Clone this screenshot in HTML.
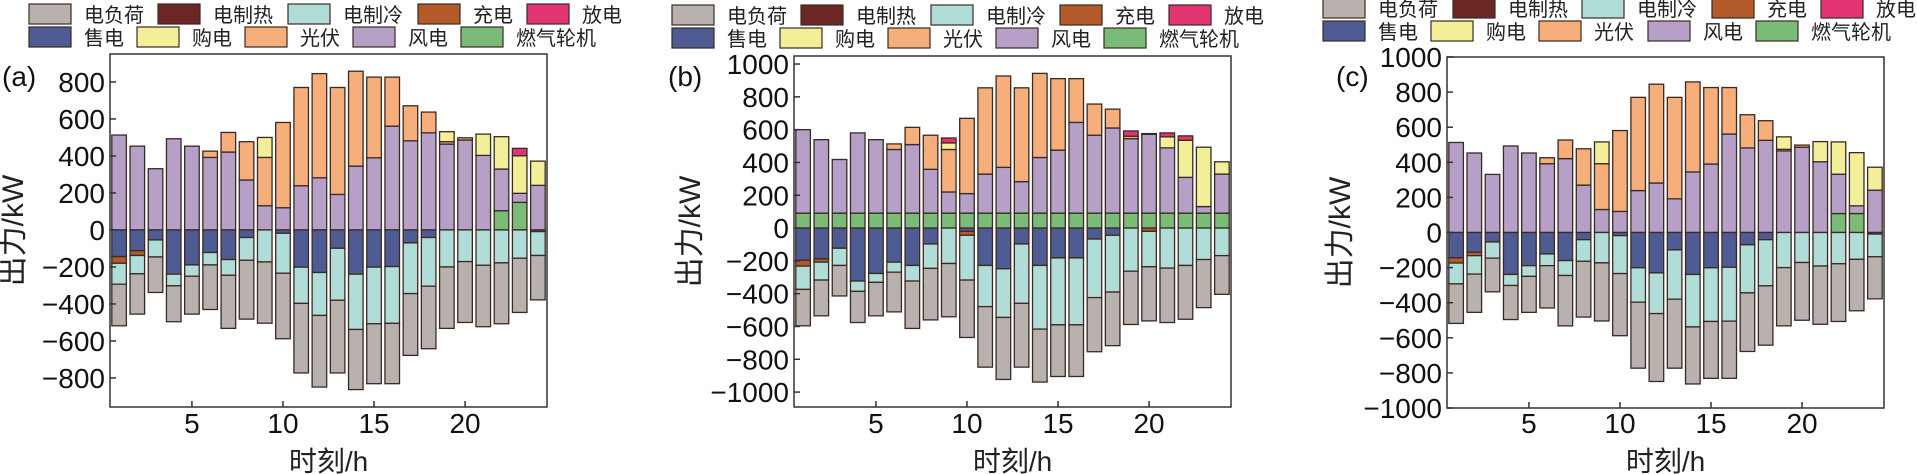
<!DOCTYPE html>
<html><head><meta charset="utf-8">
<style>
html,body{margin:0;padding:0;background:#fff;}
svg{display:block;font-family:"Liberation Sans","Noto Sans CJK SC",sans-serif;}
</style></head>
<body>
<svg id="chart" width="1917" height="474" viewBox="0 0 1917 474" xmlns="http://www.w3.org/2000/svg"></svg>
<script>
// ---------- data ----------
const hours = [1,2,3,4,5,6,7,8,9,10,11,12,13,14,15,16,17,18,19,20,21,22,23,24];
const yTicksA = [-800,-600,-400,-200,0,200,400,600,800];
const yTicksB = [-1000,-800,-600,-400,-200,0,200,400,600,800,1000];
const xTicks = [5,10,15,20];
const legendNames = ["电负荷","电制热","电制冷","充电","放电","售电","购电","光伏","风电","燃气轮机"];

// panel a
const gtA   = [0,0,0,0,0,0,0,0,0,0,0,0,0,0,0,0,0,0,0,0,0,104,149,0];
const windA = [513,453,331,493,453,392,421,270,131,120,239,282,192,345,390,561,482,525,464,486,403,225,49,241];
const pvA   = [0,0,0,0,0,34,106,207,261,461,531,563,578,513,436,265,189,112,13,12,0,0,0,0];
const buyA  = [0,0,0,0,0,0,0,0,108,0,0,0,0,0,0,0,0,0,54,0,115,175,203,131];
const disA  = [0,0,0,0,0,0,0,0,0,0,0,0,0,0,0,0,0,0,0,0,0,0,40,0];
const sellA = [144,112,54,239,189,122,160,41,0,18,201,230,99,239,201,198,70,41,0,0,0,0,0,9];
const chgA  = [36,26,0,0,0,0,0,0,0,0,0,0,0,0,0,0,0,0,0,0,0,0,0,0];
const heatA = [0,0,0,0,0,0,0,0,0,0,0,0,0,0,0,0,0,0,0,0,0,0,0,0];
const coolA = [113,99,92,63,61,67,85,123,173,216,196,232,281,299,306,307,274,263,200,171,191,178,153,129];
const loadA = [225,218,192,194,205,241,287,318,331,354,376,387,393,325,324,326,334,338,332,329,332,329,293,240];

// panel b
const gtB   = [91,91,91,91,91,91,91,91,91,91,91,91,91,91,91,91,91,91,91,91,91,91,91,91];
const windB = [509,448,327,489,448,388,418,267,129,119,238,279,192,339,384,553,475,519,454,481,398,218,40,238];
const pvB   = [0,0,0,0,0,34,105,208,259,459,526,557,572,513,436,267,190,115,15,4,0,0,0,0];
const buyB  = [0,0,0,0,0,0,0,0,40,0,0,0,0,0,0,0,0,0,0,0,67,226,362,75];
const disB  = [0,0,0,0,0,0,0,0,30,0,0,0,0,0,0,0,0,0,32,0,24,27,0,0];
const sellB = [196,188,123,323,277,208,228,97,0,20,228,248,97,228,182,182,67,44,0,0,0,0,0,0];
const chgB  = [36,20,0,0,0,0,0,0,0,24,0,0,0,0,0,0,0,0,0,20,0,0,0,0];
const heatB = [0,0,0,0,0,0,0,0,0,0,0,0,0,0,0,0,0,0,0,0,0,0,0,0];
const coolB = [142,109,105,63,54,61,95,149,216,273,251,297,362,388,408,408,357,346,263,216,244,228,192,168];
const loadB = [222,218,186,190,204,242,289,314,325,350,369,378,389,323,315,315,330,327,325,330,332,328,293,236];

// panel c
const gtC   = [0,0,0,0,0,0,0,0,0,0,0,0,0,0,0,0,0,0,0,0,0,108,108,0];
const windC = [513,453,331,493,453,392,421,270,131,120,239,282,192,345,390,561,482,525,465,486,403,224,44,241];
const pvC   = [0,0,0,0,0,34,106,207,261,461,531,563,578,513,436,265,189,112,9,12,0,0,0,0];
const buyC  = [0,0,0,0,0,0,0,0,124,0,0,0,0,0,0,0,0,0,71,0,115,184,303,131];
const disC  = [0,0,0,0,0,0,0,0,0,0,0,0,0,0,0,0,0,0,0,0,0,0,0,0];
const sellC = [144,112,54,239,189,122,160,41,0,18,201,230,99,239,201,198,70,41,0,0,0,0,0,9];
const chgC  = [30,20,0,0,0,0,0,0,0,0,0,0,0,0,0,0,0,0,0,0,0,0,0,0];
const heatC = [0,0,0,0,0,0,0,0,0,0,0,0,0,0,0,0,0,0,0,0,0,0,0,0];
const coolC = [119,105,92,63,61,67,85,123,173,216,196,232,281,299,306,307,274,263,200,171,191,178,153,129];
const loadC = [225,218,192,194,205,241,287,318,331,354,376,387,393,325,324,326,334,338,332,329,332,329,293,240];

// ---------- rendering ----------
const NS = "http://www.w3.org/2000/svg";
const svg = document.getElementById("chart");
const COL = {load:"#b9b1ae",heat:"#6b2724",cool:"#b1ddd9",chg:"#b35a2b",dis:"#e23473",sell:"#4f5b93",buy:"#f3ef98",pv:"#f6ae7b",wind:"#b7a0c8",gt:"#7bbb78"};
const legendColors = [COL.load,COL.heat,COL.cool,COL.chg,COL.dis,COL.sell,COL.buy,COL.pv,COL.wind,COL.gt];
const EDGE = "#3a2a22";

function mk(tag, attrs, parent){
  const e = document.createElementNS(NS, tag);
  for (const k in attrs) e.setAttribute(k, attrs[k]);
  (parent||svg).appendChild(e);
  return e;
}

const panels = [
  {id:"a", x0:110, x1:547, y0:54, y1:407, ymin:-957, ymax:951, ticks:yTicksA, ylabX:15, labX:2,
   legX1:[29,158,288,418,527], legX2:[29,137,245,353,461], legY:4,
   pos:[["gt",gtA],["wind",windA],["pv",pvA],["buy",buyA],["dis",disA]],
   neg:[["sell",sellA],["chg",chgA],["cool",coolA],["heat",heatA],["load",loadA]]},
  {id:"b", x0:794, x1:1231, y0:56, y1:407, ymin:-1091, ymax:1049, ticks:yTicksB, ylabX:692, labX:668,
   legX1:[672,801,931,1060,1169], legX2:[672,780,888,996,1104], legY:5,
   pos:[["gt",gtB],["wind",windB],["pv",pvB],["buy",buyB],["dis",disB]],
   neg:[["sell",sellB],["chg",chgB],["cool",coolB],["heat",heatB],["load",loadB]]},
  {id:"c", x0:1447, x1:1884, y0:57, y1:408, ymin:-1000, ymax:1000, ticks:yTicksB, ylabX:1342, labX:1336,
   legX1:[1323,1453,1582,1712,1821], legX2:[1323,1431,1539,1648,1756], legY:-2,
   pos:[["gt",gtC],["wind",windC],["pv",pvC],["buy",buyC],["dis",disC]],
   neg:[["sell",sellC],["chg",chgC],["cool",coolC],["heat",heatC],["load",loadC]]}
];

panels.forEach(p => {
  const g = mk("g", {});
  
  
  const xs = h => p.x0 + (h - 0.5) / 24 * (p.x1 - p.x0);
  const ys = v => p.y1 - (v - p.ymin) / (p.ymax - p.ymin) * (p.y1 - p.y0);
  const bw = (p.x1 - p.x0) / 24 * 0.8;

  // legend
  legendNames.forEach((n, i) => {
    const row = i < 5 ? 0 : 1;
    const lx = (row === 0 ? p.legX1 : p.legX2)[i % 5];
    const ly = p.legY + row * 23;
    const lg = mk("g", {}, g);
    
    
    mk("rect", {x:lx, y:ly, width:42, height:20, fill:legendColors[i], stroke:EDGE, "stroke-width":1.2}, lg);
    const t = mk("text", {x:lx+55, y:ly+18, "font-size":20, fill:"#222"}, lg);
    t.textContent = n;
  });

  // bars
  hours.forEach((h, i) => {
    let acc = 0;
    p.pos.forEach(([k, arr]) => {
      const v = arr[i];
      if (v <= 0) return;
      const r = mk("rect", {x:xs(h)-bw/2, y:ys(acc+v), width:bw, height:ys(acc)-ys(acc+v), fill:COL[k], stroke:EDGE, "stroke-width":1.3}, g);
      
      
      acc += v;
    });
    acc = 0;
    p.neg.forEach(([k, arr]) => {
      const v = arr[i];
      if (v <= 0) return;
      const r = mk("rect", {x:xs(h)-bw/2, y:ys(acc), width:bw, height:ys(acc-v)-ys(acc), fill:COL[k], stroke:EDGE, "stroke-width":1.3}, g);
      
      
      acc -= v;
    });
  });

  // frame
  const fr = mk("rect", {x:p.x0, y:p.y0, width:p.x1-p.x0, height:p.y1-p.y0, fill:"none", stroke:"#333", "stroke-width":1.5}, g);
  
  

  // y ticks
  p.ticks.forEach(t => {
    const y = ys(t);
    mk("line", {x1:p.x0, x2:p.x0+6, y1:y, y2:y, stroke:"#333", "stroke-width":1.5}, g);
    const tl = mk("text", {x:p.x0-5, y:y+10, "font-size":28, "text-anchor":"end", fill:"#111"}, g);
    
    
    tl.textContent = t < 0 ? "\u2212" + (-t) : String(t);
  });
  // x ticks
  xTicks.forEach(t => {
    const x = xs(t);
    mk("line", {x1:x, x2:x, y1:p.y1, y2:p.y1-6, stroke:"#333", "stroke-width":1.5}, g);
    const tl = mk("text", {x:x, y:433, "font-size":28, "text-anchor":"middle", fill:"#111"}, g);
    
    
    tl.textContent = String(t);
  });

  // axis titles
  const xl = mk("text", {x:(p.x0+p.x1)/2, y:471, "font-size":28, "text-anchor":"middle", fill:"#222"}, g);
  
  
  xl.textContent = "时刻/h";
  const cy = (p.y0+p.y1)/2;
  const yl = mk("text", {x:p.ylabX, y:cy, "font-size":30, "text-anchor":"middle", fill:"#222", transform:"rotate(-90 "+p.ylabX+" "+cy+")", "dominant-baseline":"middle"}, g);
  
  
  yl.textContent = "出力/kW";
  const pl = mk("text", {x:p.labX, y:86, "font-size":28, fill:"#111"}, g);
  
  
  pl.textContent = "(" + p.id + ")";
});
</script>
</body></html>
